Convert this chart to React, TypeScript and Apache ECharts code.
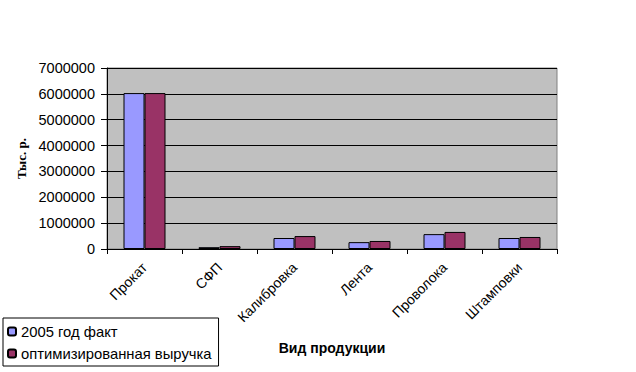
import React, { useEffect, useRef } from "react";
import * as echarts from "echarts";

const categories = ["Прокат", "СФП", "Калибровка", "Лента", "Проволока", "Штамповки"];
const fact2005 = [6030000, 70000, 425000, 265000, 575000, 425000];
const optimized = [6030000, 110000, 500000, 310000, 660000, 465000];
const seriesNames = ["2005 год факт", "оптимизированная выручка"];

export default function App() {
  const ref = useRef<HTMLDivElement>(null);
  useEffect(() => {
    if (!ref.current) return;
    const chart = echarts.init(ref.current, null, { renderer: "svg" });
    const font = "Arial, 'Liberation Sans', sans-serif";
    chart.setOption({
      animation: false,
      backgroundColor: "#ffffff",
      textStyle: { fontFamily: font },
      grid: {
        left: 107,
        top: 68,
        right: 79,
        bottom: 123,
        show: true,
        backgroundColor: "#C0C0C0",
        borderColor: "#808080",
        borderWidth: 1,
      },
      legend: {
        orient: "vertical",
        left: 3,
        top: 318,
        itemWidth: 8,
        itemHeight: 8,
        itemGap: 7,
        padding: [6, 7, 5, 4],
        borderColor: "#000",
        borderWidth: 1,
        textStyle: { fontFamily: font, fontSize: 14.8, color: "#000" },
        data: seriesNames,
      },
      xAxis: {
        type: "category",
        data: categories,
        name: "Вид продукции",
        nameLocation: "middle",
        nameGap: 92,
        nameTextStyle: { fontFamily: font, fontSize: 14, fontWeight: "bold", color: "#000" },
        axisLine: { lineStyle: { color: "#000", width: 1 } },
        axisTick: { show: true, length: 5, lineStyle: { color: "#000" } },
        axisLabel: { rotate: 45, fontFamily: font, fontSize: 14, color: "#000", margin: 16, interval: 0 },
      },
      yAxis: {
        type: "value",
        min: 0,
        max: 7000000,
        interval: 1000000,
        name: "Тыс. р.",
        nameLocation: "middle",
        nameGap: 78,
        nameRotate: 90,
        nameTextStyle: { fontFamily: "'Liberation Serif', 'Times New Roman', serif", fontSize: 13, fontWeight: "bold", color: "#000" },
        axisLine: { show: true, lineStyle: { color: "#000", width: 1 } },
        axisTick: { show: true, length: 6, lineStyle: { color: "#000" } },
        axisLabel: { fontFamily: font, fontSize: 14.5, color: "#000", margin: 12, formatter: (v: number) => String(v) },
        splitLine: { show: true, lineStyle: { color: "#000", width: 1 } },
      },
      series: [
        {
          name: seriesNames[0],
          type: "bar",
          data: fact2005,
          barWidth: 21,
          barGap: "0%",
          itemStyle: { color: "#9999FF", borderColor: "#000", borderWidth: 1 },
        },
        {
          name: seriesNames[1],
          type: "bar",
          data: optimized,
          barWidth: 21,
          barGap: "0%",
          itemStyle: { color: "#993366", borderColor: "#000", borderWidth: 1 },
        },
      ],
    });
    return () => chart.dispose();
  }, []);
  return <div ref={ref} style={{ width: 636, height: 372, position: "absolute", left: 0, top: 0 }} />;
}
